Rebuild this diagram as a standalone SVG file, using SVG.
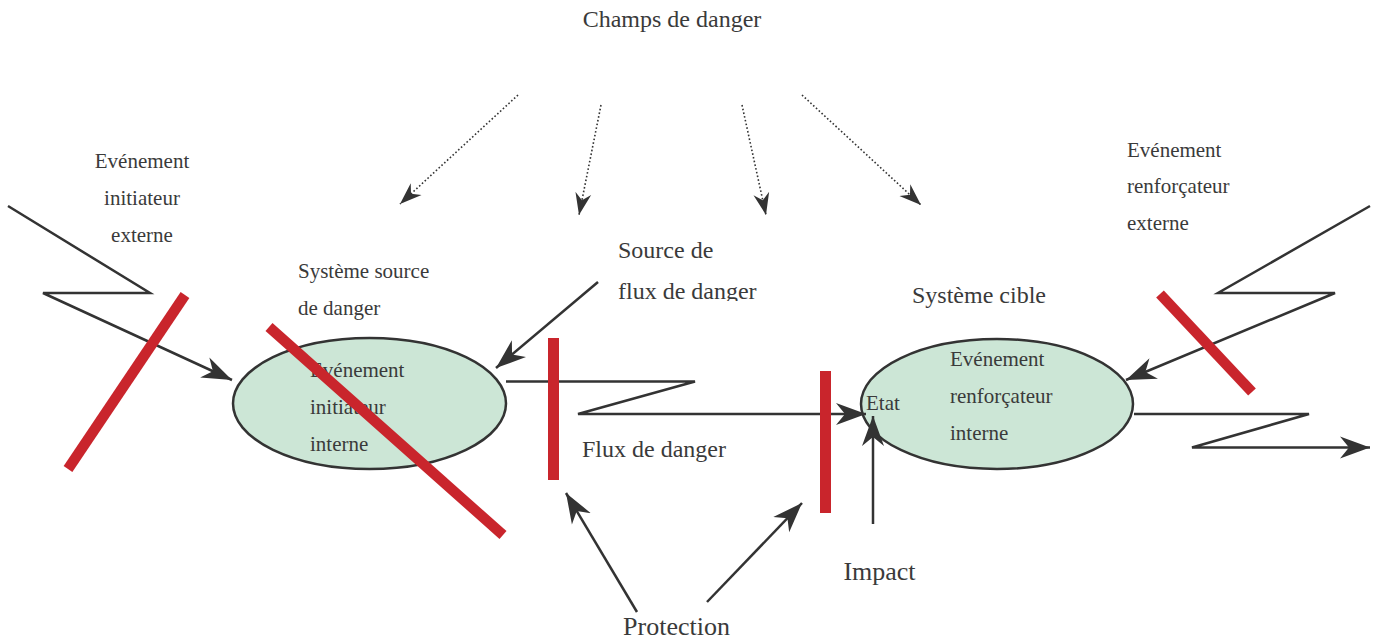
<svg xmlns="http://www.w3.org/2000/svg" width="1375" height="641" viewBox="0 0 1375 641">
<style>
text{font-family:"Liberation Serif","Times New Roman",serif;fill:#3a3a3a}
.s21{font-size:21px}.s24{font-size:24px}.s26{font-size:26px}
.ln{fill:none;stroke:#333;stroke-width:2.5;stroke-linejoin:miter}
.dot{fill:none;stroke:#333;stroke-width:1.6;stroke-dasharray:1.6 2.2}
.ell{fill:#cce6d6;stroke:#333;stroke-width:2.5}
.bar{stroke:#c9252c;stroke-width:10.5;stroke-linecap:butt}
.rb{fill:#c9252c}
</style>
<defs>
<marker id="ah" markerUnits="userSpaceOnUse" markerWidth="32" markerHeight="24" refX="30" refY="12" orient="auto" viewBox="0 0 32 24"><path d="M30,12 L0,1 L9,12 L0,23 Z" fill="#333"/></marker>
<marker id="ahs" markerUnits="userSpaceOnUse" markerWidth="24" markerHeight="18" refX="22" refY="9" orient="auto" viewBox="0 0 24 18"><path d="M22,9 L0,1 L7,9 L0,17 Z" fill="#333"/></marker>
<clipPath id="clipSrc"><rect x="600" y="230" width="200" height="71"/></clipPath>
</defs>

<g id="champs">
<text class="s24" x="672" y="27" text-anchor="middle">Champs de danger</text>
</g>

<g id="source-system">
<ellipse class="ell" cx="369.5" cy="403.5" rx="136.5" ry="65.5"/>
<text class="s21" x="310" y="377">Evénement</text>
<text class="s21" x="310" y="414">initiateur</text>
<text class="s21" x="310" y="451">interne</text>
</g>

<g id="target-system">
<ellipse class="ell" cx="997" cy="404" rx="136" ry="65"/>
<text class="s21" x="950" y="366">Evénement</text>
<text class="s21" x="950" y="403">renforçateur</text>
<text class="s21" x="950" y="440">interne</text>
<text class="s21" x="866" y="410">Etat</text>
</g>

<g id="labels">
<text class="s21" x="142" y="168" text-anchor="middle">Evénement</text>
<text class="s21" x="142" y="205" text-anchor="middle">initiateur</text>
<text class="s21" x="142" y="242" text-anchor="middle">externe</text>
<text class="s21" x="298" y="278">Système source</text>
<text class="s21" x="298" y="315">de danger</text>
<g clip-path="url(#clipSrc)">
<text class="s24" x="618" y="258">Source de</text>
<text class="s24" x="618" y="299">flux de danger</text>
</g>
<text class="s24" x="582" y="457">Flux de danger</text>
<text class="s24" x="912" y="303">Système cible</text>
<text class="s21" x="1127" y="157">Evénement</text>
<text class="s21" x="1127" y="193">renforçateur</text>
<text class="s21" x="1127" y="230">externe</text>
<text class="s26" x="879.5" y="580" text-anchor="middle">Impact</text>
<text class="s26" x="676.5" y="635" text-anchor="middle">Protection</text>
</g>

<g id="connectors">
<path class="dot" d="M518,95 L400,204" marker-end="url(#ahs)"/>
<path class="dot" d="M601,105 L579,215" marker-end="url(#ahs)"/>
<path class="dot" d="M742,105 L766,215" marker-end="url(#ahs)"/>
<path class="dot" d="M802,95 L921,205" marker-end="url(#ahs)"/>
<path class="ln" d="M8,206 L150,293 L43,293 L232,380" marker-end="url(#ah)"/>
<path class="ln" d="M598,282 L496,368" marker-end="url(#ah)"/>
<path class="ln" d="M506,381.5 L695,381.5 L578,414 L866,414" marker-end="url(#ah)"/>
<path class="ln" d="M873,524 L873,416" marker-end="url(#ah)"/>
<path class="ln" d="M637,612 L566,493" marker-end="url(#ah)"/>
<path class="ln" d="M707,602 L802,503" marker-end="url(#ah)"/>
<path class="ln" d="M1370,206 L1218,293 L1335,293 L1126,380" marker-end="url(#ah)"/>
<path class="ln" d="M1134,414 L1309,414 L1192,447.5 L1370,447.5" marker-end="url(#ah)"/>
</g>

<g id="barriers">
<line class="bar" x1="185" y1="295" x2="68" y2="469"/>
<line class="bar" x1="269" y1="327" x2="503" y2="535"/>
<line class="bar" x1="1160" y1="294" x2="1252" y2="392"/>
<rect class="rb" x="548" y="338" width="11" height="142"/>
<rect class="rb" x="820" y="371" width="11" height="142"/>
</g>
</svg>
